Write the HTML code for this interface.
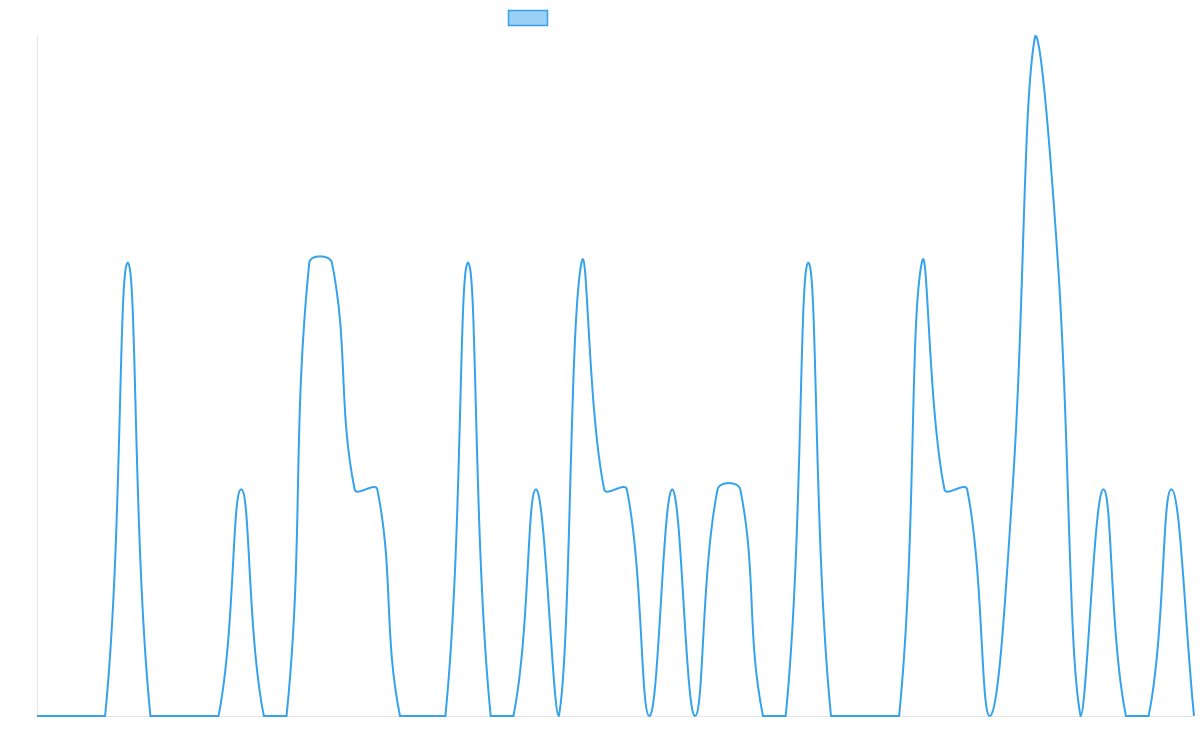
<!DOCTYPE html>
<html><head><meta charset="utf-8"><style>
html,body{margin:0;padding:0;background:#fff;width:1200px;height:750px;overflow:hidden}
svg{display:block}
</style></head><body>
<svg id="c" width="1200" height="750" xmlns="http://www.w3.org/2000/svg">
<rect x="508.5" y="10.5" width="39" height="15" fill="rgba(54,162,235,0.5)" stroke="#36a2eb" stroke-width="1.5"/>
<line x1="37.5" y1="36" x2="37.5" y2="716" stroke="rgba(0,0,0,0.1)"/>
<line x1="37" y1="716.5" x2="1194" y2="716.5" stroke="rgba(0,0,0,0.1)"/>
<path id="p" fill="none" stroke="#36a2eb" stroke-width="2"/>
</svg>
<script>
var v=[0,0,0,0,2,0,0,0,0,1,0,0,2,2,1,1,0,0,0,2,0,0,1,0,2,1,1,0,1,0,1,1,0,0,2,0,0,0,0,2,1,1,0,1,3,2,0,1,0,0,1,0];
var x0=37,x1=1194,yb=716,yt=36,n=v.length,dx=(x1-x0)/(n-1),u=(yb-yt)/3;
var P=v.map(function(a,i){return {x:x0+dx*i,y:yb-a*u};});
var t=0.4;
P.forEach(function(c,i){
 var p=P[i-1]||c,nx=P[i+1]||c;
 var d01=Math.hypot(c.x-p.x,c.y-p.y),d12=Math.hypot(nx.x-c.x,nx.y-c.y);
 var s01=d01/(d01+d12)||0,s12=d12/(d01+d12)||0;
 var fa=t*s01,fb=t*s12;
 c.px=c.x-fa*(nx.x-p.x);c.py=c.y-fa*(nx.y-p.y);
 c.nx=c.x+fb*(nx.x-p.x);c.ny=c.y+fb*(nx.y-p.y);
 function cl(a,lo,hi){return Math.max(lo,Math.min(hi,a));}
 c.px=cl(c.px,x0,x1);c.nx=cl(c.nx,x0,x1);c.py=cl(c.py,yt-5,yb);c.ny=cl(c.ny,yt-5,yb);
});
var d="M"+P[0].x+","+P[0].y;
for(var i=1;i<n;i++){var a=P[i-1],b=P[i];d+=" C"+a.nx+","+a.ny+" "+b.px+","+b.py+" "+b.x+","+b.y;}
document.getElementById('p').setAttribute('d',d);
</script>
</body></html>
